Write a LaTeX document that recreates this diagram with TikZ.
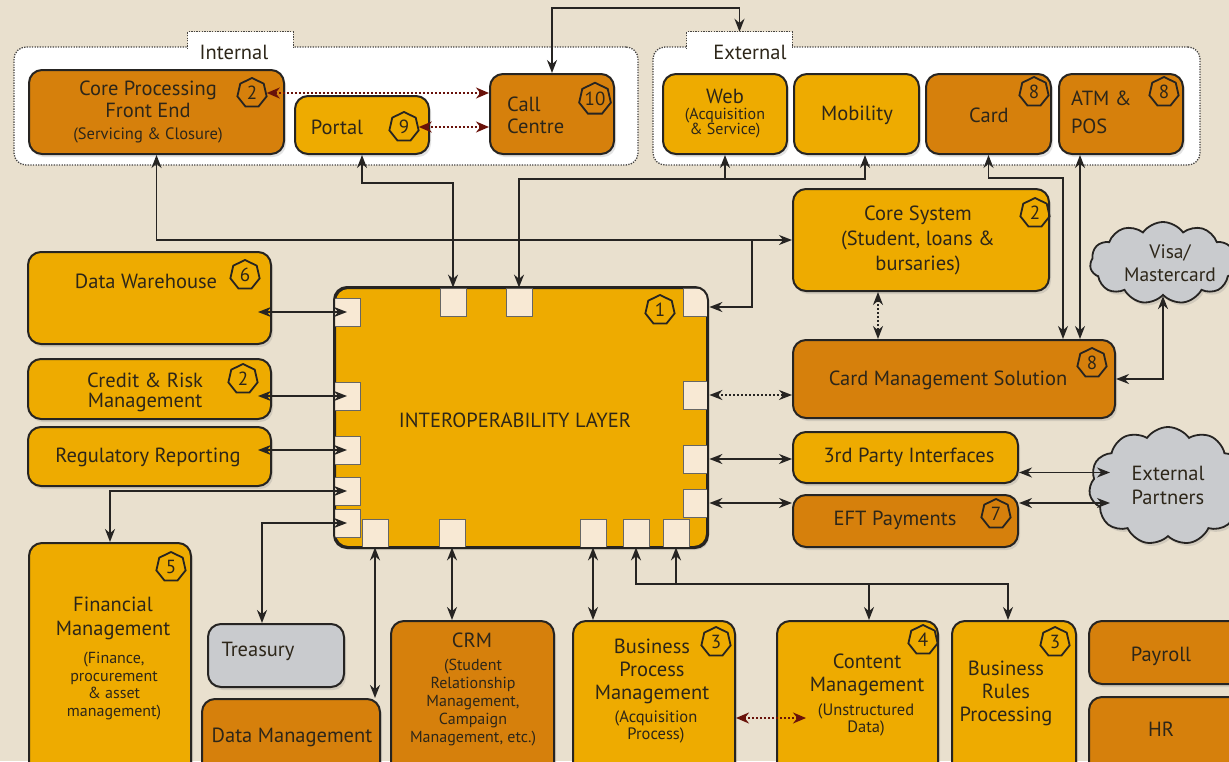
\documentclass[tikz,border=0pt]{standalone}
\usepackage{fontspec}
\setmainfont{PT Sans}
\usetikzlibrary{shapes.geometric,shapes.symbols,arrows.meta,calc,shadows}
\definecolor{bgc}{RGB}{233,224,206}
\definecolor{lor}{RGB}{238,171,0}
\definecolor{dor}{RGB}{214,128,12}
\definecolor{grc}{RGB}{201,203,206}
\definecolor{prt}{RGB}{248,233,212}
\definecolor{txc}{RGB}{45,38,25}
\definecolor{lnc}{RGB}{38,36,34}
\definecolor{rdc}{RGB}{105,18,10}
\newcommand\fsz[2]{\fontsize{#1pt}{#2pt}\selectfont}
\newcommand\mybox[6]{\node[#2, minimum width={(#5-#3)*1pt}, minimum height={(#6-#4)*1pt}] (#1) at ({(#3+#5)/2},{(#4+#6)/2}) {};}
\begin{document}
\begin{tikzpicture}[x=1pt,y=-1pt,
  >={Stealth[length=13pt,width=10pt]},
  boxst/.style={draw=lnc, line width=2pt, rounded corners=13pt, inner sep=0pt,
    drop shadow={shadow xshift=2pt,shadow yshift=-3pt,opacity=0.22}},
  lt/.style={boxst, fill=lor},
  dk/.style={boxst, fill=dor},
  gr/.style={boxst, fill=grc},
  grp/.style={draw=lnc!85, fill=white, line width=1.3pt, dash pattern=on 1.3pt off 1.3pt, rounded corners=12pt, inner sep=0pt},
  grpline/.style={draw=lnc!85, line width=1.3pt, dash pattern=on 1.3pt off 1.3pt},
  tabst/.style={fill=white, inner sep=0pt},
  portst/.style={draw=lnc!70, line width=0.8pt, fill=prt, minimum width=26pt, minimum height=28pt, inner sep=0pt},
  badge/.style={regular polygon, regular polygon sides=7, draw=lnc, line width=1.8pt, minimum size=30pt, inner sep=0pt, font=\fsz{19}{19}, text=txc},
  cloudst/.style={cloud, cloud puffs=11, cloud puff arc=110, cloud ignores aspect, draw=lnc, line width=1.8pt, fill=grc, inner sep=0pt,
    drop shadow={shadow xshift=2pt,shadow yshift=-3pt,opacity=0.22}},
  txt/.style={text=txc, align=center, inner sep=0pt, font=\fsz{20.5}{22}},
  small/.style={txt, font=\fsz{16.5}{17}},
  conn/.style={draw=lnc, line width=1.8pt},
  dotblk/.style={draw=lnc, line width=1.8pt, dash pattern=on 2pt off 2pt, <->},
  rdot/.style={draw=rdc, line width=2pt, dash pattern=on 2pt off 2pt, <->, >={Stealth[length=13pt,width=11pt]}}
]
\useasboundingbox (0,0) rectangle (1229,761);
\clip (0,0) rectangle (1229,761);
\fill[bgc] (0,0) rectangle (1229,761);

% groups
\mybox{intg}{grp}{14}{47}{638}{165}
\mybox{extg}{grp}{653}{47}{1200}{165}
\mybox{intab}{tabst}{188}{32}{293}{49}
\mybox{extab}{tabst}{687}{32}{792}{49}
\draw[grpline] (intab.south west) -- (intab.north west) -- (intab.north east) -- (intab.south east);
\draw[grpline] (extab.south west) -- (extab.north west) -- (extab.north east) -- (extab.south east);
\node[txt] (intl) at (234,52) {Internal};
\node[txt] (extl) at (750,52) {External};

% boxes
\mybox{cpf}{dk}{29}{70}{284}{154}
\mybox{portal}{lt}{295}{96}{429}{154}
\mybox{cc}{dk}{490}{74}{614}{154}
\mybox{web}{lt}{663}{74}{787}{154}
\mybox{mob}{lt}{794}{74}{919}{154}
\mybox{card}{dk}{926}{74}{1051}{154}
\mybox{atm}{dk}{1059}{74}{1183}{154}
\mybox{cs}{lt}{793}{189}{1049}{291}
\mybox{cms}{dk}{793}{340}{1115}{418}
\mybox{tpi}{lt}{793}{432}{1018}{483}
\mybox{eft}{dk}{793}{495}{1018}{547}
\mybox{dw}{lt}{28}{252}{271}{344}
\mybox{cr}{lt}{28}{359}{271}{419}
\mybox{rr}{lt}{28}{427}{271}{486}
\mybox{il}{lt}{335}{288}{707}{547}
\mybox{fm}{lt}{29}{543}{191}{800}
\mybox{tr}{gr}{208}{624}{344}{687}
\mybox{dm}{dk}{202}{699}{380}{800}
\mybox{crm}{dk}{391}{621}{554}{800}
\mybox{bpm}{lt}{573}{621}{735}{800}
\mybox{cm}{lt}{777}{621}{938}{800}
\mybox{br}{lt}{952}{621}{1076}{800}
\mybox{pay}{dk}{1089}{621}{1260}{684}
\mybox{hr}{dk}{1089}{697}{1260}{800}

% clouds
\node[cloudst, minimum width=146pt, minimum height=82pt] (vis) at (1163,263) {};
\node[cloudst, minimum width=158pt, minimum height=118pt] (ep) at (1168,486) {};

% ports
\begin{scope}
\clip[rounded corners=13pt] (il.north west) rectangle (il.south east);
\node[portst] (pt1) at (453,302) {};
\node[portst] (pt2) at (519,302) {};
\node[portst] (ptr) at (696,302) {};
\node[portst] (pl1) at (347,312) {};
\node[portst] (pl2) at (347,396) {};
\node[portst] (pl3) at (347,450) {};
\node[portst] (pl4) at (347,491) {};
\node[portst] (pl5) at (347,523) {};
\node[portst] (pr1) at (696,395) {};
\node[portst] (pr2) at (696,459) {};
\node[portst] (pr3) at (696,503) {};
\node[portst] (pb1) at (375,533) {};
\node[portst] (pb2) at (452,533) {};
\node[portst] (pb3) at (593,533) {};
\node[portst] (pb4) at (636,533) {};
\node[portst] (pb5) at (676,533) {};
\end{scope}
\draw[lnc, line width=2pt, rounded corners=13pt] (il.north west) rectangle (il.south east);

% badges
\node[badge] (bA) at (252,93) {2};
\node[badge] (b9) at (404,127) {9};
\node[badge] (b10) at (595,99) {10};
\node[badge] (b8a) at (1034,92) {8};
\node[badge] (b8b) at (1164,92) {8};
\node[badge] (b2cs) at (1035,213) {2};
\node[badge] (b8c) at (1092,363) {8};
\node[badge] (b1) at (660,310) {1};
\node[badge] (b6) at (245,275) {6};
\node[badge] (b2cr) at (243,379) {2};
\node[badge] (b7) at (996,514) {7};
\node[badge] (b5) at (171,567) {5};
\node[badge] (b3a) at (716,642) {3};
\node[badge] (b4) at (923,640) {4};
\node[badge] (b3b) at (1055,642) {3};

% texts
\node[txt] (tcpf) at (148,112) {Core Processing\\Front End\\\fsz{16.5}{21}(Servicing \& Closure)};
\node[txt] (tportal) at (337,127) {Portal};
\node[txt, anchor=west, align=left] (tcc) at (507,115) {Call\\Centre};
\node[txt] (tweb) at (725,96) {Web};
\node[small, font=\fsz{16}{15}] (tweb2) at (725,123) {(Acquisition\\\& Service)};
\node[txt] (tmob) at (857,115) {Mobility};
\node[txt] (tcard) at (989,115) {Card};
\node[txt, anchor=west, align=left, font=\fsz{20.5}{28}] (tatm) at (1071,112) {ATM \&\\POS};
\node[txt, font=\fsz{20.5}{25}] (tcs) at (918,240) {Core System\\(Student, loans \&\\bursaries)};
\node[txt] (tcms) at (948,380) {Card Management Solution};
\node[txt] (ttpi) at (909,457) {3rd Party Interfaces};
\node[txt] (teft) at (895,520) {EFT Payments};
\node[txt, font=\fsz{19.5}{23}] (tvis) at (1170,263) {Visa/\\Mastercard};
\node[txt, font=\fsz{20.5}{24}] (tep) at (1168,485) {External\\Partners};
\node[txt] (tdw) at (146,281) {Data Warehouse};
\node[txt, font=\fsz{20.5}{20}] (tcr) at (145,392) {Credit \& Risk\\Management};
\node[txt] (trr) at (148,457) {Regulatory Reporting};
\node[txt] (til) at (515,420) {INTEROPERABILITY LAYER};
\node[txt, font=\fsz{20.5}{24}] (tfm) at (113,618) {Financial\\Management};
\node[small, font=\fsz{16}{17.5}] (tfm2) at (114,686) {(Finance,\\procurement\\\& asset\\management)};
\node[txt] (ttr) at (258,651) {Treasury};
\node[txt] (tdm) at (292,737) {Data Management};
\node[txt] (tcrm) at (472,640) {CRM};
\node[small, font=\fsz{16}{18}] (tcrm2) at (473,703) {(Student\\Relationship\\Management,\\Campaign\\Management, etc.)};
\node[txt, font=\fsz{20.5}{23}] (tbpm) at (652,671) {Business\\Process\\Management};
\node[small] (tbpm2) at (656,727) {(Acquisition\\Process)};
\node[txt, font=\fsz{20.5}{23}] (tcm) at (867,675) {Content\\Management};
\node[small] (tcm2) at (866,720) {(Unstructured\\Data)};
\node[txt, font=\fsz{20.5}{23}] (tbr) at (1006,693) {Business\\Rules\\Processing};
\node[txt] (tpay) at (1161,656) {Payroll};
\node[txt] (thr) at (1161,729) {HR};

% helper coordinates
\coordinate (ytop) at (0,8);
\coordinate (yP) at (0,183);
\coordinate (yW) at (0,179);
\coordinate (yC) at (0,178);
\coordinate (brA) at (752,240);
\coordinate (mobx) at (865,0);
\coordinate (cardL) at ([xshift=-53pt]cms.north east);
\coordinate (atmL) at ([xshift=-36pt]cms.north east);
\coordinate (csx) at (878,0);
\coordinate (epx) at (1110,0);
\coordinate (trx) at (262,0);
\coordinate (yB) at (0,584);
\coordinate (cmx) at (869,0);
\coordinate (brx) at (1008,0);
\coordinate (yD) at (0,718);
\coordinate (cmin) at ([xshift=30pt]cm.west);
\coordinate (tpR) at ([yshift=-15pt]tpi.east);
\coordinate (eftR) at ([yshift=18pt]eft.east);
\coordinate (dwL) at ($(pl1 -| dw.east)+(-14,0)$);
\coordinate (crL) at ($(pl2 -| cr.east)+(-14,0)$);
\coordinate (rrL) at ($(pl3 -| rr.east)+(-14,0)$);
\coordinate (ptrR) at ([yshift=-5pt]ptr.east);

% connectors
\draw[conn,<->] (cc.north) -- (cc.north |- ytop) -| (extab.north);
\draw[conn,<->] (cpf.south) |- (cs.west);
\draw[conn,->] (brA) |- (ptrR);
\draw[conn,<->] (portal.south) -- (portal.south |- yP) -| (pt1.north);
\draw[conn,<->] (mobx |- mob.south) -- (mobx |- yW) -| (pt2.north);
\draw[conn,<-] (web.south) -- (web.south |- yW);
\draw[conn,<->] (card.south) -- (card.south |- yC) -| (cardL);
\draw[conn,<->] (atmL |- atm.south) -- (atmL);
\draw[dotblk] (csx |- cs.south) -- (csx |- cms.north);
\draw[dotblk] (pr1.east) -- (pr1.east -| cms.west);
\draw[conn,<->] (pr2.east) -- (pr2.east -| tpi.west);
\draw[conn,<->] (pr3.east) -- (pr3.east -| eft.west);
\draw[conn,<->] (tpR) -- (tpR -| epx);
\draw[conn,<->] (eftR) -- (eftR -| epx);
\draw[conn,<->] (cms.east) -| (vis.south);
\draw[conn,<->] (dwL) -- (pl1.center);
\draw[conn,<->] (crL) -- (pl2.center);
\draw[conn,<->] (rrL) -- (pl3.center);
\draw[conn,<->] (fm.north) |- (pl4.center);
\draw[conn,<->] (trx |- tr.north) |- (pl5.center);
\draw[conn,<->] (pb1.south) -- (pb1.south |- dm.north);
\draw[conn,<->] (pb2.south) -- (pb2.south |- crm.north);
\draw[conn,<->] (pb3.south) -- (pb3.south |- bpm.north);
\draw[conn,<->] (pb4.south) -- (pb4.south |- yB) -| (brx |- br.north);
\draw[conn,<-] (pb5.south) -- (pb5.south |- yB);
\draw[conn,->] (cmx |- yB) -- (cmx |- cm.north);
\draw[rdot] (bA.east) -- (bA.east -| cc.west);
\draw[rdot] (b9.east) -- (b9.east -| cc.west);
\draw[rdot] (bpm.east |- yD) -- (cmin |- yD);
\end{tikzpicture}
\end{document}
